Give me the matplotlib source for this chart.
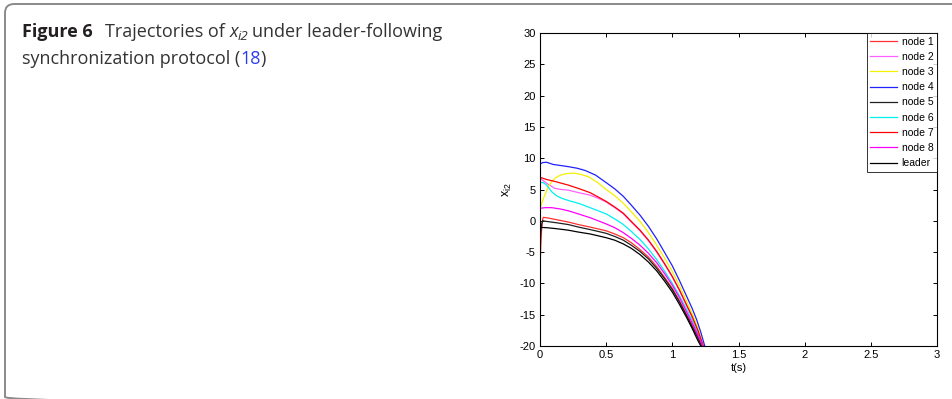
import numpy as np
import matplotlib.pyplot as plt
from matplotlib.patches import FancyBboxPatch

# values (t in s, x_i2)
t_node1 = [0, 0.005, 0.012, 0.02, 0.025, 0.06, 0.12, 0.214, 0.29, 0.378, 0.44, 0.5, 0.565, 0.63, 0.69,
           0.756, 0.82, 0.882, 0.94, 1.0, 1.055, 1.109, 1.15, 1.195, 1.228, 1.26]
x_node1 = [-8.1, -4.5, -1.5, 0.2, 0.55, 0.45, 0.2, -0.2, -0.6, -1.0, -1.3, -1.6, -2.1, -2.7, -3.5,
           -4.6, -5.8, -7.3, -9.0, -10.8, -12.8, -15.0, -16.6, -18.5, -20.0, -21.5]

t_node2 = [0, 0.05, 0.11, 0.16, 0.214, 0.29, 0.378, 0.44, 0.5, 0.565, 0.63, 0.69, 0.756, 0.82,
           0.882, 0.94, 1.0, 1.055, 1.109, 1.15, 1.195, 1.232, 1.26]
x_node2 = [6.8, 6.0, 5.2, 5.0, 4.9, 4.5, 4.1, 3.6, 3.0, 2.1, 1.1, -0.2, -1.6, -3.2,
           -5.0, -6.9, -9.0, -11.2, -13.6, -15.4, -17.7, -20.0, -21.8]

t_node3 = [0, 0.03, 0.063, 0.09, 0.113, 0.15, 0.189, 0.23, 0.264, 0.31, 0.365, 0.43, 0.5, 0.565,
           0.63, 0.69, 0.756, 0.82, 0.882, 0.94, 1.0, 1.055, 1.109, 1.15, 1.195, 1.234, 1.26]
x_node3 = [2.0, 3.8, 5.45, 6.3, 6.8, 7.25, 7.5, 7.6, 7.6, 7.4, 7.05, 6.2, 5.0, 4.0,
           2.8, 1.45, -0.1, -1.9, -3.9, -5.9, -8.1, -10.4, -12.9, -14.8, -17.2, -20.0, -21.8]

t_node4 = [0, 0.02, 0.05, 0.1, 0.15, 0.214, 0.28, 0.34, 0.42, 0.5, 0.565, 0.63, 0.69, 0.756,
           0.82, 0.882, 0.94, 1.0, 1.055, 1.109, 1.15, 1.184, 1.215, 1.245, 1.27]
x_node4 = [9.07, 9.3, 9.35, 9.0, 8.85, 8.65, 8.4, 8.05, 7.3, 6.1, 5.1, 3.9, 2.5, 0.9,
           -0.9, -2.9, -5.0, -7.2, -9.6, -12.1, -14.0, -15.8, -17.8, -20.0, -21.7]

t_node5 = [0, 0.005, 0.012, 0.02, 0.05, 0.12, 0.214, 0.29, 0.378, 0.44, 0.5, 0.565, 0.63, 0.69,
           0.756, 0.82, 0.882, 0.94, 1.0, 1.055, 1.109, 1.15, 1.195, 1.222, 1.25]
x_node5 = [-4.0, -2.0, -0.6, 0.0, -0.1, -0.3, -0.6, -1.0, -1.4, -1.7, -2.0, -2.5, -3.1, -3.9,
           -4.9, -6.1, -7.6, -9.2, -11.0, -13.0, -15.2, -16.9, -18.8, -20.0, -21.4]

t_node6 = [0, 0.025, 0.05, 0.088, 0.125, 0.164, 0.22, 0.29, 0.378, 0.44, 0.5, 0.565, 0.63, 0.69,
           0.756, 0.82, 0.882, 0.94, 1.0, 1.055, 1.109, 1.15, 1.195, 1.232, 1.26]
x_node6 = [6.1, 6.1, 5.7, 4.65, 4.0, 3.6, 3.2, 2.8, 2.1, 1.6, 1.1, 0.3, -0.6, -1.7,
           -3.0, -4.5, -6.2, -8.0, -10.0, -12.0, -14.2, -15.9, -18.0, -20.0, -21.6]

t_node7 = [0, 0.05, 0.11, 0.214, 0.3, 0.378, 0.44, 0.5, 0.565, 0.63, 0.69, 0.756, 0.82, 0.882,
           0.94, 1.0, 1.055, 1.109, 1.15, 1.195, 1.234, 1.26]
x_node7 = [6.95, 6.6, 6.3, 5.7, 5.1, 4.5, 3.8, 3.1, 2.2, 1.2, -0.1, -1.5, -3.1, -4.9,
           -6.8, -8.9, -11.1, -13.5, -15.3, -17.6, -20.0, -21.8]

t_node8 = [0, 0.04, 0.088, 0.15, 0.214, 0.29, 0.378, 0.44, 0.5, 0.565, 0.63, 0.69, 0.756, 0.82,
           0.882, 0.94, 1.0, 1.055, 1.109, 1.15, 1.195, 1.23, 1.26]
x_node8 = [2.0, 2.1, 2.1, 1.9, 1.6, 1.1, 0.5, 0.0, -0.5, -1.1, -1.9, -2.8, -3.9, -5.2,
           -6.7, -8.4, -10.3, -12.3, -14.6, -16.3, -18.3, -20.0, -21.4]

t_leader = [0, 0.05, 0.12, 0.214, 0.29, 0.378, 0.44, 0.5, 0.565, 0.63, 0.69, 0.756, 0.82, 0.882,
            0.94, 1.0, 1.055, 1.109, 1.15, 1.19, 1.215, 1.245]
x_leader = [-1.05, -1.1, -1.25, -1.5, -1.8, -2.1, -2.4, -2.7, -3.1, -3.7, -4.4, -5.4, -6.6, -8.0,
            -9.6, -11.4, -13.4, -15.5, -17.2, -19.0, -20.0, -21.3]

labels = ['node 1', 'node 2', 'node 3', 'node 4', 'node 5', 'node 6', 'node 7', 'node 8', 'leader']
colors = ['#ff3030', '#ff60ff', '#f5f000', '#2020ff', '#202020', '#00f0f0', '#ff0000', '#ff00ff', '#000000']
series = [(t_node1, x_node1), (t_node2, x_node2), (t_node3, x_node3), (t_node4, x_node4),
          (t_node5, x_node5), (t_node6, x_node6), (t_node7, x_node7), (t_node8, x_node8),
          (t_leader, x_leader)]

plt.rcParams['axes.unicode_minus'] = False

W, H = 953, 399
fig = plt.figure(figsize=(W / 100, H / 100), dpi=100)

# background axes in pixel units for the rounded frame (runs past right/bottom edge)
bg = fig.add_axes([0, 0, 1, 1], zorder=-1)
bg.set_xlim(0, W)
bg.set_ylim(H, 0)
bg.axis('off')
bg.add_patch(FancyBboxPatch((5, 4), 1300, 402, boxstyle='round,pad=0,rounding_size=9',
                            fill=False, edgecolor='#8a8a8a', lw=1.4, clip_on=False))

ax = fig.add_axes([540 / W, 1 - 346 / H, 397 / W, 313 / H])
for (tt, xx), c, lab in zip(series, colors, labels):
    ax.plot(tt, xx, color=c, lw=0.9, label=lab)

ax.set_xlim(0, 3)
ax.set_ylim(-20, 30)
ax.set_xticks(np.arange(0, 3.01, 0.5))
ax.set_xticklabels(['0', '0.5', '1', '1.5', '2', '2.5', '3'])
ax.set_yticks(np.arange(-20, 31, 5))
ax.tick_params(direction='in', top=True, right=True, length=3, width=0.7,
               labelsize=8, pad=3)
for lab in ax.get_xticklabels() + ax.get_yticklabels():
    lab.set_family('Liberation Sans')
for s in ax.spines.values():
    s.set_linewidth(0.8)
ax.set_xlabel('t(s)', fontsize=8, family='Liberation Sans', labelpad=2)
ax.set_ylabel(r'x$_{\mathregular{i2}}$', fontsize=9, family='Liberation Sans', labelpad=4)

leg = ax.legend(loc='upper right', frameon=True, fancybox=False,
                borderaxespad=0, handlelength=2.6, handletextpad=0.4,
                labelspacing=0.5, borderpad=0.35, prop={'family': 'Liberation Sans', 'size': 7.5})
leg.get_frame().set_edgecolor('black')
leg.get_frame().set_linewidth(0.7)

# caption built piece by piece
fig.canvas.draw()
r = fig.canvas.get_renderer()

def put(x, y, s, **kw):
    t = fig.text(x / W, 1 - y / H, s, va='baseline', ha='left', **kw)
    return x + t.get_window_extent(r).width

fs = 13.0
cap = dict(family='Open Sans', fontsize=fs, color='#333333')
x = put(22, 37, 'Figure 6', family='Open Sans', fontsize=fs, weight='bold', color='#231f20')
x = put(x + 12, 37, 'Trajectories of ', **cap)
x = put(x, 37, 'x', family='Open Sans', fontsize=fs, style='italic', color='#333333')
x = put(x, 40, 'i2', family='Open Sans', fontsize=9.5, style='italic', color='#333333')
x = put(x + 4, 37, 'under leader-following', **cap)
x = put(22, 64, 'synchronization protocol (', **cap)
x = put(x, 64, '18', family='Open Sans', fontsize=fs, color='#2a3cf0')
x = put(x, 64, ')', **cap)

plt.savefig('out.png', dpi=100)
